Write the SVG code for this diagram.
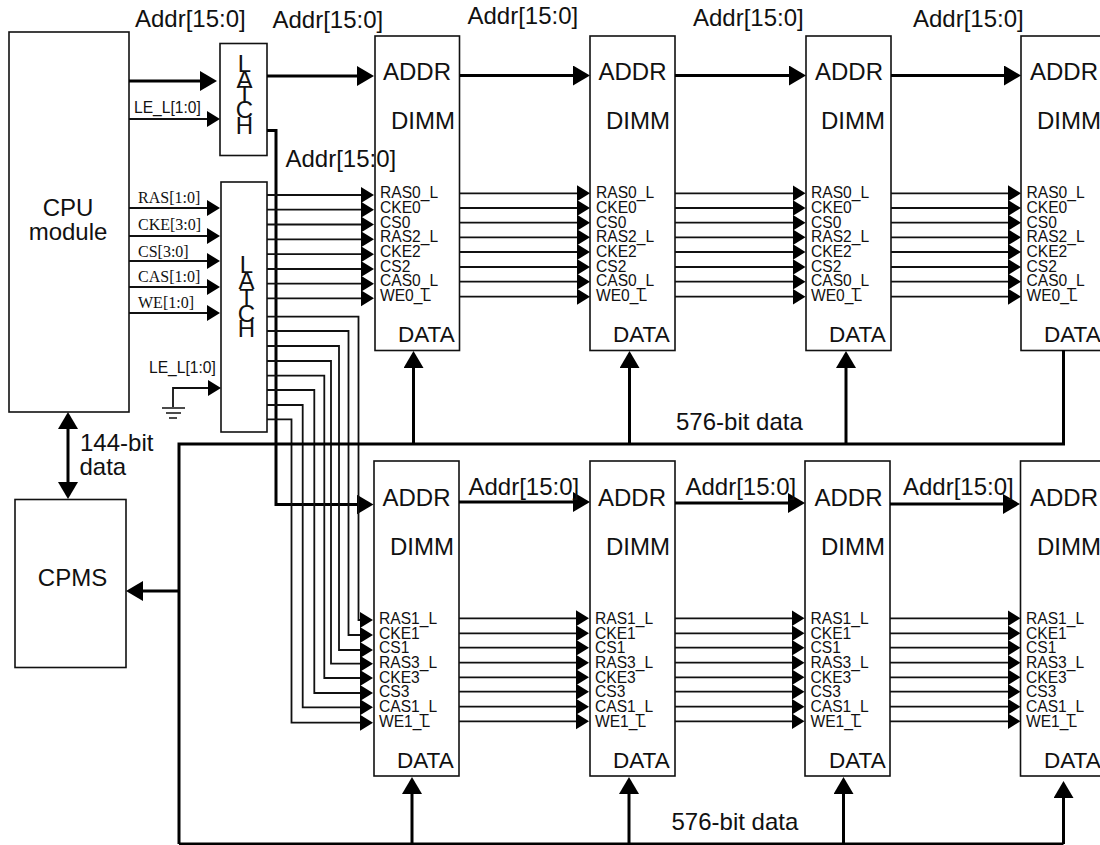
<svg xmlns="http://www.w3.org/2000/svg" width="1100" height="845" viewBox="0 0 1100 845">
<style>
text{font-family:"Liberation Sans",Arial,sans-serif;fill:#111}
.big{font-size:24px}
.dat{font-size:22.5px}
.pin{font-size:15.6px}
.ser{font-family:"Liberation Serif","Times New Roman",serif;font-size:16px}
.sm{font-size:15.6px}
.box{fill:#fff;stroke:#111;stroke-width:1.6}
.t{fill:none;stroke:#111;stroke-width:1.8}
.h{fill:none;stroke:#000;stroke-width:3}
.a{marker-end:url(#sa)}
.b{marker-end:url(#ba)}
.g{fill:none;stroke:#111;stroke-width:1.6}
</style>
<defs>
<marker id="sa" markerUnits="userSpaceOnUse" markerWidth="14" markerHeight="17" refX="7" refY="8" orient="auto"><path d="M0 0L13 8L0 16z" fill="#000"/></marker>
<marker id="ba" markerUnits="userSpaceOnUse" markerWidth="18" markerHeight="21" refX="11" refY="10" orient="auto"><path d="M0 0L17 10L0 20z" fill="#000"/></marker>
<marker id="bs" markerUnits="userSpaceOnUse" markerWidth="18" markerHeight="21" refX="11" refY="10" orient="auto-start-reverse"><path d="M0 0L17 10L0 20z" fill="#000"/></marker>
</defs>

<g id="cpu"><rect class="box" x="9" y="32" width="120" height="380"/><text class="big" x="68" y="216" text-anchor="middle">CPU</text><text class="big" x="68" y="239.500" text-anchor="middle">module</text></g>
<g id="cpms"><rect class="box" x="15" y="499.500" width="111" height="168"/><text class="big" x="72.500" y="586" text-anchor="middle">CPMS</text></g>
<g id="latch1"><rect class="box" x="220" y="43.500" width="47" height="112"/><text class="big" text-anchor="middle" x="244.500 244.500 244.500 244.500 244.500" y="72 87.500 103 118 134">LATCH</text></g>
<g id="latch2"><rect class="box" x="221" y="182" width="46" height="250"/><text class="big" text-anchor="middle" x="246.500 246.500 246.500 246.500 246.500" y="273 289 306 322 337">LATCH</text></g>

<g id="dimm-t1"><rect class="box" x="375" y="36" width="84.500" height="314.500"/><text class="big" x="383" y="80">ADDR</text><text class="big" x="391" y="129">DIMM</text><text class="dat" x="398" y="342">DATA</text>
<text class="pin" x="380" y="198.300">RAS0_L</text><text class="pin" x="380" y="213">CKE0</text><text class="pin" x="380" y="227.700">CS0</text><text class="pin" x="380" y="242.400">RAS2_L</text><text class="pin" x="380" y="257">CKE2</text><text class="pin" x="380" y="271.700">CS2</text><text class="pin" x="380" y="286.400">CAS0_L</text><text class="pin" x="380" y="301">WE0_L</text></g>
<g id="dimm-t2"><rect class="box" x="590" y="36" width="85" height="314.500"/><text class="big" x="598.500" y="80">ADDR</text><text class="big" x="606" y="129">DIMM</text><text class="dat" x="613" y="342">DATA</text>
<text class="pin" x="596" y="198.300">RAS0_L</text><text class="pin" x="596" y="213">CKE0</text><text class="pin" x="596" y="227.700">CS0</text><text class="pin" x="596" y="242.400">RAS2_L</text><text class="pin" x="596" y="257">CKE2</text><text class="pin" x="596" y="271.700">CS2</text><text class="pin" x="596" y="286.400">CAS0_L</text><text class="pin" x="596" y="301">WE0_L</text></g>
<g id="dimm-t3"><rect class="box" x="806" y="36" width="85" height="314.500"/><text class="big" x="815" y="80">ADDR</text><text class="big" x="821" y="129">DIMM</text><text class="dat" x="829" y="342">DATA</text>
<text class="pin" x="811" y="198.300">RAS0_L</text><text class="pin" x="811" y="213">CKE0</text><text class="pin" x="811" y="227.700">CS0</text><text class="pin" x="811" y="242.400">RAS2_L</text><text class="pin" x="811" y="257">CKE2</text><text class="pin" x="811" y="271.700">CS2</text><text class="pin" x="811" y="286.400">CAS0_L</text><text class="pin" x="811" y="301">WE0_L</text></g>
<g id="dimm-t4"><rect class="box" x="1021" y="36" width="90" height="314.500"/><text class="big" x="1030" y="80">ADDR</text><text class="big" x="1037" y="129">DIMM</text><text class="dat" x="1044" y="342">DATA</text>
<text class="pin" x="1026.500" y="198.300">RAS0_L</text><text class="pin" x="1026.500" y="213">CKE0</text><text class="pin" x="1026.500" y="227.700">CS0</text><text class="pin" x="1026.500" y="242.400">RAS2_L</text><text class="pin" x="1026.500" y="257">CKE2</text><text class="pin" x="1026.500" y="271.700">CS2</text><text class="pin" x="1026.500" y="286.400">CAS0_L</text><text class="pin" x="1026.500" y="301">WE0_L</text></g>

<g id="dimm-b1"><rect class="box" x="374" y="461" width="85" height="315"/><text class="big" x="382.500" y="505.500">ADDR</text><text class="big" x="390" y="555">DIMM</text><text class="dat" x="397" y="768">DATA</text>
<text class="pin" x="379" y="624">RAS1_L</text><text class="pin" x="379" y="638.700">CKE1</text><text class="pin" x="379" y="653.300">CS1</text><text class="pin" x="379" y="668">RAS3_L</text><text class="pin" x="379" y="682.700">CKE3</text><text class="pin" x="379" y="697.400">CS3</text><text class="pin" x="379" y="712">CAS1_L</text><text class="pin" x="379" y="726.700">WE1_L</text></g>
<g id="dimm-b2"><rect class="box" x="590" y="461" width="85" height="315"/><text class="big" x="598" y="505.500">ADDR</text><text class="big" x="606" y="555">DIMM</text><text class="dat" x="613" y="768">DATA</text>
<text class="pin" x="595" y="624">RAS1_L</text><text class="pin" x="595" y="638.700">CKE1</text><text class="pin" x="595" y="653.300">CS1</text><text class="pin" x="595" y="668">RAS3_L</text><text class="pin" x="595" y="682.700">CKE3</text><text class="pin" x="595" y="697.400">CS3</text><text class="pin" x="595" y="712">CAS1_L</text><text class="pin" x="595" y="726.700">WE1_L</text></g>
<g id="dimm-b3"><rect class="box" x="805" y="461" width="85" height="315"/><text class="big" x="814.500" y="505.500">ADDR</text><text class="big" x="821" y="555">DIMM</text><text class="dat" x="829" y="768">DATA</text>
<text class="pin" x="810.500" y="624">RAS1_L</text><text class="pin" x="810.500" y="638.700">CKE1</text><text class="pin" x="810.500" y="653.300">CS1</text><text class="pin" x="810.500" y="668">RAS3_L</text><text class="pin" x="810.500" y="682.700">CKE3</text><text class="pin" x="810.500" y="697.400">CS3</text><text class="pin" x="810.500" y="712">CAS1_L</text><text class="pin" x="810.500" y="726.700">WE1_L</text></g>
<g id="dimm-b4"><rect class="box" x="1020.500" y="461" width="90" height="315"/><text class="big" x="1030" y="505.500">ADDR</text><text class="big" x="1037" y="555">DIMM</text><text class="dat" x="1044" y="768">DATA</text>
<text class="pin" x="1026" y="624">RAS1_L</text><text class="pin" x="1026" y="638.700">CKE1</text><text class="pin" x="1026" y="653.300">CS1</text><text class="pin" x="1026" y="668">RAS3_L</text><text class="pin" x="1026" y="682.700">CKE3</text><text class="pin" x="1026" y="697.400">CS3</text><text class="pin" x="1026" y="712">CAS1_L</text><text class="pin" x="1026" y="726.700">WE1_L</text></g>

<g id="connectors">
<path class="h b" d="M129 81H211"/>
<path class="h b" d="M267 76H368"/>
<path class="h b" d="M460 75.500H584"/>
<path class="h b" d="M675 75.500H800"/>
<path class="h b" d="M891 75.500H1015"/>
<path class="h b" d="M267 130.500H276V504.500H367.500"/>
<path class="h b" d="M459 502H584"/>
<path class="h b" d="M675 503H799"/>
<path class="h b" d="M890 504H1014"/>
<path class="t a" d="M129 119H214"/>
<path class="t a" d="M129 208H214"/>
<path class="t a" d="M129 236H214"/>
<path class="t a" d="M129 261H214"/>
<path class="t a" d="M129 287H214"/>
<path class="t a" d="M129 313H214"/>
<path class="t a" d="M173 407V388H215"/>
<path class="g" d="M162 408H185M166 413H181M169 418H177"/>

<path class="t a" d="M267 195H368"/><path class="t a" d="M267 209.700H368"/><path class="t a" d="M267 224.500H368"/><path class="t a" d="M267 239.300H368"/><path class="t a" d="M267 254.200H368"/><path class="t a" d="M267 269H368"/><path class="t a" d="M267 283.700H368"/><path class="t a" d="M267 298.300H368"/>

<path class="t a" d="M460 193.300H584"/><path class="t a" d="M460 208H584"/><path class="t a" d="M460 222.700H584"/><path class="t a" d="M460 237.300H584"/><path class="t a" d="M460 252H584"/><path class="t a" d="M460 267H584"/><path class="t a" d="M460 281.700H584"/><path class="t a" d="M460 296.700H584"/>
<path class="t a" d="M675 193.300H799.500"/><path class="t a" d="M675 208H799.500"/><path class="t a" d="M675 222.700H799.500"/><path class="t a" d="M675 237.300H799.500"/><path class="t a" d="M675 252H799.500"/><path class="t a" d="M675 267H799.500"/><path class="t a" d="M675 281.700H799.500"/><path class="t a" d="M675 296.700H799.500"/>
<path class="t a" d="M891 193.300H1015"/><path class="t a" d="M891 208H1015"/><path class="t a" d="M891 222.700H1015"/><path class="t a" d="M891 237.300H1015"/><path class="t a" d="M891 252H1015"/><path class="t a" d="M891 267H1015"/><path class="t a" d="M891 281.700H1015"/><path class="t a" d="M891 296.700H1015"/>

<path class="t a" d="M267 316.700H358.500V620H367"/>
<path class="t a" d="M267 331H348.500V635H367"/>
<path class="t a" d="M267 346H339V650H367"/>
<path class="t a" d="M267 361H331V663.700H367"/>
<path class="t a" d="M267 375.700H324.300V678H367"/>
<path class="t a" d="M267 390H314.300V693H367"/>
<path class="t a" d="M267 405H302.700V707.300H367"/>
<path class="t a" d="M267 419.300H291.500V722.700H367"/>

<path class="t a" d="M459 618.300H583"/><path class="t a" d="M459 633.300H583"/><path class="t a" d="M459 647.700H583"/><path class="t a" d="M459 662.700H583"/><path class="t a" d="M459 677.300H583"/><path class="t a" d="M459 691.700H583"/><path class="t a" d="M459 706.700H583"/><path class="t a" d="M459 721.300H583"/>
<path class="t a" d="M675 618.300H798.500"/><path class="t a" d="M675 633.300H798.500"/><path class="t a" d="M675 647.700H798.500"/><path class="t a" d="M675 662.700H798.500"/><path class="t a" d="M675 677.300H798.500"/><path class="t a" d="M675 691.700H798.500"/><path class="t a" d="M675 706.700H798.500"/><path class="t a" d="M675 721.300H798.500"/>
<path class="t a" d="M890 618.300H1014.500"/><path class="t a" d="M890 633.300H1014.500"/><path class="t a" d="M890 647.700H1014.500"/><path class="t a" d="M890 662.700H1014.500"/><path class="t a" d="M890 677.300H1014.500"/><path class="t a" d="M890 691.700H1014.500"/><path class="t a" d="M890 706.700H1014.500"/><path class="t a" d="M890 721.300H1014.500"/>

<path class="h" d="M179 844V444H1063.500V350"/>
<path class="h" d="M179 844H1063.500"/>
<path class="h b" d="M413.500 444V357"/>
<path class="h b" d="M629.500 444V357"/>
<path class="h b" d="M846 444V357"/>
<path class="h b" d="M412 844V783"/>
<path class="h b" d="M629 844V783"/>
<path class="h b" d="M843.500 844V783"/>
<path class="h b" d="M1063.500 844V787"/>
<path class="h b" d="M179 591H132"/>
<path class="h" style="marker-start:url(#bs);marker-end:url(#bs)" d="M68 418V493"/>
</g>

<g id="labels">
<text class="big" x="135" y="26.500">Addr[15:0]</text>
<text class="big" x="272.500" y="28">Addr[15:0]</text>
<text class="big" x="467.500" y="24">Addr[15:0]</text>
<text class="big" x="693" y="25.500">Addr[15:0]</text>
<text class="big" x="913" y="27">Addr[15:0]</text>
<text class="big" x="285.500" y="166.500">Addr[15:0]</text>
<text class="big" x="468.500" y="494.500">Addr[15:0]</text>
<text class="big" x="685.500" y="494.500">Addr[15:0]</text>
<text class="big" x="903" y="495">Addr[15:0]</text>
<text class="sm" x="134" y="113">LE_L[1:0]</text>
<text class="sm" x="149" y="373">LE_L[1:0]</text>
<text class="ser" x="138" y="203">RAS[1:0]</text>
<text class="ser" x="138" y="230">CKE[3:0]</text>
<text class="ser" x="138" y="256.500">CS[3:0]</text>
<text class="ser" x="138" y="282">CAS[1:0]</text>
<text class="ser" x="138" y="308">WE[1:0]</text>
<text class="big" x="80" y="450.500">144-bit</text>
<text class="big" x="79.500" y="475">data</text>
<text class="big" x="676" y="430">576-bit data</text>
<text class="big" x="671.500" y="830">576-bit data</text>
</g>
</svg>
